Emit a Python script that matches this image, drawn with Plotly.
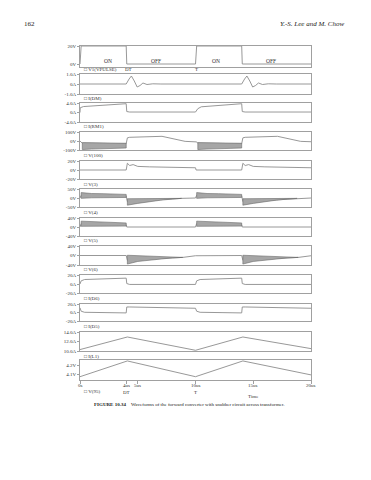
import plotly.graph_objects as go

# ---------------- data (time in microseconds) ----------------
vpulse_t = [0, 0.1, 4.0, 4.05, 10.0, 10.1, 14.0, 14.05, 20]
vpulse_v = [0, 20, 20, 0, 0, 20, 20, 0, 0]

idm_t = [0, 4.0, 4.25, 4.45, 4.7, 4.95, 5.2, 5.45, 5.8, 6.3, 7.0,
         14.0, 14.25, 14.45, 14.7, 14.95, 15.2, 15.45, 15.8, 16.3, 17.0, 20]
idm_v = [0, 0, 0.5, 0.8, 0.3, -0.3, -0.15, 0.1, -0.05, 0.02, 0,
         0, 0.5, 0.8, 0.3, -0.3, -0.15, 0.1, -0.05, 0.02, 0, 0]

irm_t = [0, 0.02, 0.3, 4.0, 4.05, 4.3, 10.0, 10.2, 10.5, 14.0, 14.05, 14.3, 20]
irm_v = [0, 2.0, 2.5, 3.7, 0.4, 0.2, 0.2, 1.6, 2.4, 3.7, 0.4, 0.2, 0.2]

v100_t = [0, 0.1, 0.2, 4.0, 4.1, 4.3, 7.1, 9.1, 10.0, 10.1, 10.2, 14.0, 14.1, 14.3, 17.1, 19.1, 20]
v100_v = [0, -10, -25, -30, 35, 41, 52, -4, -8, -10, -25, -30, 35, 41, 52, -4, -8]
v100_band_t = [[0.2, 1, 2, 3, 4.0], [10.2, 11, 12, 13, 14.0]]
v100_band_hi = [[-18, -20, -22, -24, -25], [-18, -20, -22, -24, -25]]
v100_band_lo = [[-95, -90, -85, -80, -78], [-95, -90, -85, -80, -78]]

v3_t = [0, 4.0, 4.1, 4.3, 4.6, 5.0, 6, 8, 10, 10.05, 14, 14.1, 14.3, 14.6, 15, 16, 18, 20]
v3_v = [0, 0, 15, 10, 12, 8, 7, 6, 5, 0, 0, 15, 10, 12, 8, 7, 6, 5]

v4_t = [0, 0.1, 4.0, 4.1, 8.8, 10.0, 10.1, 14.0, 14.1, 18.8, 20]
v4_v = [0, 15, 12, -20, -2, 0, 15, 12, -20, -2, 0]
v4_on_t = [[0.1, 1, 2, 3, 4.0], [10.1, 11, 12, 13, 14.0]]
v4_on_hi = [[30, 25, 24, 22, 20], [30, 25, 24, 22, 20]]
v4_on_lo = [[-2, 1, 2, 3, 3], [-2, 1, 2, 3, 3]]
v4_off_t = [[4.1, 5, 6, 7, 8, 8.8], [14.1, 15, 16, 17, 18, 18.8]]
v4_off_hi = [[-4, -4, -3, -2, -2, -2], [-4, -4, -3, -2, -2, -2]]
v4_off_lo = [[-40, -30, -20, -12, -6, -2], [-40, -30, -20, -12, -6, -2]]

v5_t = [0, 0.1, 4.0, 4.05, 10.0, 10.1, 14.0, 14.05, 20]
v5_v = [0, 15, 10, 0, 0, 15, 10, 0, 0]
v5_band_t = [[0.1, 1, 2, 3, 4.0], [10.1, 11, 12, 13, 14.0]]
v5_band_hi = [[26, 24, 22, 20, 18], [26, 24, 22, 20, 18]]
v5_band_lo = [[3, 3, 4, 4, 4], [3, 3, 4, 4, 4]]

v6_t = [0, 4.0, 4.1, 8.9, 10, 14, 14.1, 18.9, 20]
v6_v = [0, 0, -20, -8, -1, 0, -20, -8, -1]
v6_band_t = [[4.1, 5, 6, 7, 8, 8.9], [14.1, 15, 16, 17, 18, 18.9]]
v6_band_hi = [[1, -1, -3, -4, -6, -8], [1, -1, -3, -4, -6, -8]]
v6_band_lo = [[-36, -25, -18, -14, -10, -8], [-36, -25, -18, -14, -10, -8]]

id6_t = [0, 0.1, 0.4, 4.0, 4.05, 4.3, 10.0, 10.1, 10.4, 14.0, 14.05, 14.3, 20]
id6_v = [0, 7, 10, 13, 1, -1, -1, 7, 10, 13, 1, -1, -1]

id5_t = [0, 0.1, 0.4, 4.0, 4.05, 4.3, 10.0, 10.1, 10.4, 14.0, 14.05, 14.3, 20]
id5_v = [11, 3, 0.5, -1, 13, 13, 10, 3, 0.5, -1, 13, 13, 10]

il1_t = [0, 4.1, 10, 14.1, 20]
il1_v = [10.3, 12.95, 10.15, 12.95, 10.5]

v95_t = [0, 4.1, 10, 14.1, 20]
v95_v = [4.07, 4.245, 4.07, 4.245, 4.09]

# tick labels
y_tickvals = [[0, 20], [-1, 0, 1], [-4, 0, 4], [-100, 0, 100], [-20, 0, 20], [-50, 0, 50],
              [-40, 0, 40], [-40, 0, 40], [-20, 0, 20], [-20, 0, 20], [10, 12, 14], [4.1, 4.2]]
y_ticktext = [["0V", "20V"], ["-1.0A", "0A", "1.0A"], ["-4.0A", "0A", "4.0A"],
              ["-100V", "0V", "100V"], ["-20V", "0V", "20V"], ["-50V", "0V", "50V"],
              ["-40V", "0V", "40V"], ["-40V", "0V", "40V"], ["-20A", "0A", "20A"],
              ["-20A", "0A", "20A"], ["10.0A", "12.0A", "14.0A"], ["4.1V", "4.2V"]]
legend_names = ["V1(VPULSE)", "I(DM)", "I(RM1)", "V(100)", "V(3)", "V(4)", "V(5)",
                "V(6)", "I(D6)", "I(D5)", "I(L1)", "V(95)"]
x_tickvals = [0, 4, 5, 10, 15, 20]
x_ticktext = ["0s", "4us", "5us", "10us", "15us", "20us"]
on_off_labels = ["ON", "OFF", "ON", "OFF"]
on_off_t = [2.4, 6.6, 11.8, 16.5]

# ---------------- layout geometry (pixels) ----------------
W, H = 371, 480
X0, X1 = 72, 303
panel_top = [38, 66, 95, 124, 153, 181, 210, 238, 267, 296, 324, 352]
panel_bot = [59, 86, 114, 142, 171, 199, 228, 257, 285, 313, 343, 372]
panel_range = [[-3.33, 20], [-1, 1], [-4, 4], [-100, 100], [-20, 20], [-50, 50],
               [-40, 40], [-40, 40], [-20, 20], [-20, 20], [10, 14], [4.0333, 4.2556]]
legend_y = [61, 90, 118, 147, 176, 204, 233, 261, 290, 318, 348, 383]

FONT = "Liberation Serif, Times New Roman, serif"
LINE = "#8c8c8c"
AX = "#a0a0a0"
TXT = "#333333"


def py(p):
    return 1 - p / H


def px(p):
    return p / W


series = [(vpulse_t, vpulse_v), (idm_t, idm_v), (irm_t, irm_v), (v100_t, v100_v),
          (v3_t, v3_v), (v4_t, v4_v), (v5_t, v5_v), (v6_t, v6_v), (id6_t, id6_v),
          (id5_t, id5_v), (il1_t, il1_v), (v95_t, v95_v)]
bands = {4: [(v100_band_t, v100_band_hi, v100_band_lo)],
         6: [(v4_on_t, v4_on_hi, v4_on_lo), (v4_off_t, v4_off_hi, v4_off_lo)],
         7: [(v5_band_t, v5_band_hi, v5_band_lo)],
         8: [(v6_band_t, v6_band_hi, v6_band_lo)]}

fig = go.Figure()
layout = dict(width=W, height=H, margin=dict(l=0, r=0, t=0, b=0),
              paper_bgcolor="white", plot_bgcolor="white", showlegend=False,
              font=dict(family=FONT, size=5, color=TXT))

for i in range(12):
    n = i + 1
    xs = "" if n == 1 else str(n)
    xa, ya = "x" + xs, "y" + xs
    t, v = series[i]
    fig.add_trace(go.Scatter(x=t, y=v, mode="lines", xaxis=xa, yaxis=ya,
                             line=dict(color=LINE, width=0.9), hoverinfo="skip"))
    for (bt, bh, bl) in bands.get(n, []):
        xx, yy = [], []
        for k in range(len(bt)):
            xx += list(bt[k]) + list(reversed(bt[k])) + [bt[k][0], None]
            yy += list(bh[k]) + list(reversed(bl[k])) + [bh[k][0], None]
        fig.add_trace(go.Scatter(x=xx, y=yy, mode="lines", fill="toself",
                                 xaxis=xa, yaxis=ya,
                                 line=dict(color="#6a6a6a", width=0.6),
                                 fillcolor="rgba(120,120,120,0.8)",
                                 fillpattern=dict(shape="|", size=2, solidity=0.5,
                                                  fgcolor="#4a4a4a", bgcolor="#c4c4c4"),
                                 hoverinfo="skip"))
    bottom = (n == 12)
    layout["xaxis" + xs] = dict(domain=[px(X0), px(X1)], range=[0, 20], anchor=ya,
                                showline=True, mirror=True, linecolor=AX, linewidth=1,
                                showgrid=False, zeroline=False,
                                showticklabels=False, ticks="outside" if bottom else "",
                                ticklen=3, tickcolor=AX,
                                tickvals=x_tickvals if bottom else None)
    if n > 1:
        layout["xaxis" + xs]["matches"] = "x"
    layout["yaxis" + xs] = dict(domain=[py(panel_bot[i]), py(panel_top[i])],
                                range=panel_range[i], anchor=xa,
                                showline=True, mirror=True, linecolor=AX, linewidth=1,
                                showgrid=False, zeroline=False, ticks="outside",
                                ticklen=2, tickcolor=AX, tickvals=y_tickvals[i],
                                ticktext=y_ticktext[i], automargin=False,
                                tickfont=dict(family=FONT, size=5, color=TXT))

ann = []
for i, name in enumerate(legend_names):
    ann.append(dict(x=px(74), y=py(legend_y[i]), xref="paper", yref="paper",
                    text="\u25a1 " + name, showarrow=False, xanchor="left",
                    yanchor="middle", font=dict(family=FONT, size=5, color=TXT)))
# x tick labels of the bottom axis, just under the ticks
for tv, tl in zip(x_tickvals, x_ticktext):
    ann.append(dict(x=tv, y=py(377.5), xref="x", yref="paper", text=tl, showarrow=False,
                    yanchor="middle", font=dict(family=FONT, size=5, color=TXT)))
for lab, tt in zip(on_off_labels, on_off_t):
    ann.append(dict(x=tt, y=py(48), xref="x", yref="paper", text=lab, showarrow=False,
                    font=dict(family=FONT, size=5.5, color=TXT)))
for lab, tt, yy in [("DT", 4.2, 61), ("T", 10.05, 61), ("DT", 4.0, 384), ("T", 10.0, 384)]:
    ann.append(dict(x=tt, y=py(yy), xref="x", yref="paper", text=lab, showarrow=False,
                    yanchor="middle", font=dict(family=FONT, size=5, color=TXT)))
ann.append(dict(x=15, y=py(388), xref="x", yref="paper", text="Time", showarrow=False,
                yanchor="middle", font=dict(family=FONT, size=5, color=TXT)))
ann.append(dict(x=px(14), y=py(16), xref="paper", yref="paper", text="162",
                showarrow=False, xanchor="left", yanchor="middle",
                font=dict(family=FONT, size=7, color="#222")))
ann.append(dict(x=px(338), y=py(16), xref="paper", yref="paper",
                text="<i>Y.-S. Lee and M. Chow</i>", showarrow=False, xanchor="right",
                yanchor="middle", font=dict(family=FONT, size=7, color="#222")))
ann.append(dict(x=px(84), y=py(396), xref="paper", yref="paper",
                text="<b>FIGURE 10.34</b>\u00a0\u00a0\u00a0\u00a0Waveforms of the forward converter with snubber circuit across transformer.",
                showarrow=False, xanchor="left", yanchor="middle",
                font=dict(family=FONT, size=5, color="#222")))
layout["annotations"] = ann
fig.update_layout(**layout)
fig.write_html("out.html")
